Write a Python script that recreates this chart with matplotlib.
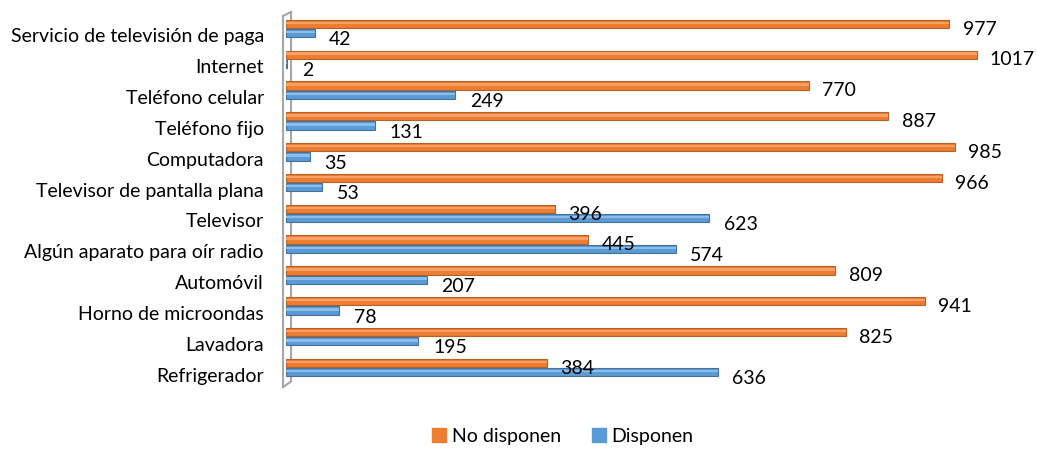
import matplotlib
matplotlib.use("Agg")
import matplotlib.pyplot as plt
import matplotlib.transforms as mtransforms
from matplotlib.patches import Patch

categories = ["Servicio de televisión de paga", "Internet", "Teléfono celular",
              "Teléfono fijo", "Computadora", "Televisor de pantalla plana",
              "Televisor", "Algún aparato para oír radio", "Automóvil",
              "Horno de microondas", "Lavadora", "Refrigerador"]
no_disponen = [977, 1017, 770, 887, 985, 966, 396, 445, 809, 941, 825, 384]
disponen = [42, 2, 249, 131, 35, 53, 623, 574, 207, 78, 195, 636]

plt.rcParams['font.family'] = ['Lato', 'DejaVu Sans']

W, H = 1037, 456
fig = plt.figure(figsize=(W / 100, H / 100), dpi=100)
ax = fig.add_axes([286 / W, 1 - 387 / H, 747 / W, (387 - 11) / H])

orange = "#ED7D31"
orange_hi = "#F8A066"
blue = "#5B9BD5"
blue_hi = "#8CBDE8"
n = len(categories)
y = list(range(n))
off = 0.15
h = 0.27
fs = 14

# wall (back line behind bars)
ax.plot([7.4, 7.4], [-0.535, 11.45], color="#A6A6A6", lw=1.5, clip_on=False, zorder=1)

ax.barh([i - off for i in y], no_disponen, height=h, color=orange,
        edgecolor="#B4622A", linewidth=0.8, zorder=3)
ax.barh([i - off - h * 0.12 for i in y], no_disponen, height=h * 0.3, color=orange_hi,
        linewidth=0, zorder=4)
ax.barh([i + off for i in y], disponen, height=h, color=blue,
        edgecolor="#41719C", linewidth=0.8, zorder=3)
ax.barh([i + off - h * 0.12 for i in y], disponen, height=h * 0.3, color=blue_hi,
        linewidth=0, zorder=4)

for i in y:
    ax.annotate(str(no_disponen[i]), (no_disponen[i], i - off), xytext=(9.5, -7),
                textcoords="offset points", va="baseline", ha="left", fontsize=fs, zorder=5)
    ax.annotate(str(disponen[i]), (disponen[i], i + off), xytext=(10.5, -8),
                textcoords="offset points", va="baseline", ha="left", fontsize=fs, zorder=5)

ax.set_xlim(0, 1100)
ax.set_ylim(n - 1 + 0.6, -0.6)
ax.set_yticks(y)
ax.set_yticklabels(categories, fontsize=fs)
ax.tick_params(axis="y", length=0, pad=16)
ax.set_xticks([])
shift = mtransforms.ScaledTranslation(0, -6 / 100, fig.dpi_scale_trans)
for lbl in ax.get_yticklabels():
    lbl.set_transform(lbl.get_transform() + shift)
for s in ax.spines.values():
    s.set_visible(False)

# wall front lines
wc = "#A6A6A6"
ax.plot([-4.4, -4.4], [-0.405, 11.64], color=wc, lw=1.5, clip_on=False, zorder=2)
ax.plot([-4.4, 7.4], [-0.405, -0.535], color=wc, lw=1.5, clip_on=False, zorder=2)
ax.plot([-4.4, 7.4], [11.64, 11.45], color=wc, lw=1.5, clip_on=False, zorder=2)

handles = [Patch(color=orange, label="No disponen"), Patch(color=blue, label="Disponen")]
fig.legend(handles=handles, loc="center", bbox_to_anchor=(563 / W, 1 - 437 / H),
           ncol=2, frameon=False, fontsize=fs, handlelength=0.7, handleheight=0.7,
           handletextpad=0.3, columnspacing=1.6)

fig.savefig("out.png", dpi=100)
